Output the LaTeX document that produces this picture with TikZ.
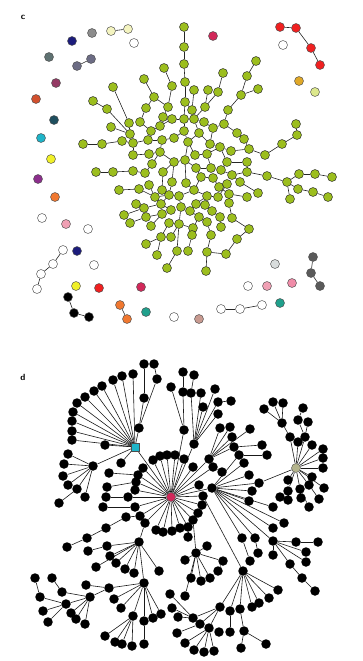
\documentclass[tikz,border=0pt]{standalone}
\usetikzlibrary{backgrounds}
\definecolor{leaf}{HTML}{9CBE1E}
\definecolor{cgray}{HTML}{8C8C8C}
\definecolor{cpaleyel}{HTML}{F4F4C0}
\definecolor{cnavy}{HTML}{1C1C7C}
\definecolor{cslate}{HTML}{5F7272}
\definecolor{cgrpur}{HTML}{6C6C84}
\definecolor{cmaroon}{HTML}{943A64}
\definecolor{corred}{HTML}{D2502E}
\definecolor{cdkteal}{HTML}{1E4E5E}
\definecolor{ccyan}{HTML}{1EB4C8}
\definecolor{cyel}{HTML}{F0F028}
\definecolor{cpurple}{HTML}{8C2E8C}
\definecolor{ccrim}{HTML}{D2285A}
\definecolor{cred}{HTML}{F02020}
\definecolor{cgold}{HTML}{E0A828}
\definecolor{clime}{HTML}{DCE88C}
\definecolor{corange}{HTML}{F07830}
\definecolor{cpink}{HTML}{F0A0B4}
\definecolor{cpinkb}{HTML}{F08CA8}
\definecolor{cteal}{HTML}{20A08C}
\definecolor{cltgray}{HTML}{D8DCDC}
\definecolor{cdkgray}{HTML}{5A5A5A}
\definecolor{crosy}{HTML}{C89A90}
\definecolor{chubg}{HTML}{B4B48C}
\begin{document}
\begin{tikzpicture}[x=1pt,y=-1pt,
  gn/.style={circle,draw=black!85,fill=leaf,line width=0.45pt,inner sep=0pt,minimum size=9pt},
  bn/.style={circle,fill=black,inner sep=0pt,minimum size=9.5pt},
  dot/.style={circle,draw=black!70,fill=#1,line width=0.45pt,inner sep=0pt,minimum size=9pt},
  hub/.style={draw=black!70,fill=#1,line width=0.4pt,inner sep=0pt,minimum size=9pt},
  link/.style={draw=black!85,line width=0.6pt},
  lab/.style={font=\sffamily\bfseries\small}]
\useasboundingbox (0,0) rectangle (363,661);
\node[lab] (labc) at (23,17) {c};
\node[lab] (labd) at (23,377) {d};
\foreach \x/\y in {184/27,184/47,184/64,185/82,185/102,184/119,184/131,188/142,185/160,
  164/68,144/79,113/87,154/97,172/86,93/101,107/109,146/108,168/107,111/127,129/123,140/122,163/117,172/119,160/126,151/131,130/134,83/144,102/144,122/141,133/143,148/140,162/140,174/138,133/155,149/154,160/152,152/164,174/162,96/172,113/172,133/171,145/173,163/172,
  256/61,223/73,247/76,258/89,194/90,208/90,218/92,241/95,205/107,228/110,192/110,194/119,204/122,213/128,224/124,199/133,237/133,244/139,296/124,297/135,282/144,210/144,220/147,231/151,249/149,265/155,195/155,207/154,227/162,247/162,299/174,315/174,332/177,267/176,196/168,211/168,221/170,232/175,247/172,287/182,298/189,313/192,328/197,290/199,201/177,213/178,240/182,194/190,219/187,229/194,258/193,247/197,207/196,
  119/190,139/189,149/185,162/190,172/182,186/183,155/197,169/195,179/196,136/204,144/208,161/204,171/210,181/207,190/211,196/204,205/205,218/197,227/184,229/203,124/215,130/223,146/217,162/214,199/217,212/211,220/217,151/226,169/223,179/224,207/222,232/218,221/227,193/228,161/237,171/237,192/235,211/235,237/239,146/244,157/255,177/251,188/251,207/252,226/254,167/268,206/271,249/229}
  \node[gn] (g\x-\y) at (\x,\y) {};
\foreach \x/\y/\c in {92/33/cgray,134/43/white,72/41/cnavy,49/57/cslate,56/83/cmaroon,36/99/corred,54/120/cdkteal,41/138/ccyan,51/159/cyel,38/179/cpurple,
  213/36/ccrim,283/45/white,299/81/cgold,315/92/clime,55/197/corange,42/218/white,66/224/cpink,88/229/white,77/251/cnavy,94/265/white,76/286/cyel,99/288/cred,141/287/ccrim,146/312/cteal,174/317/white,
  275/264/cltgray,248/286/white,267/286/cpink,292/283/cpinkb,280/303/cteal,199/319/crosy,
  111/31/cpaleyel,128/29/cpaleyel,77/66/cgrpur,91/59/cgrpur,280/27/cred,296/28/cred,311/48/cred,320/65/cred,
  63/250/white,53/264/white,41/274/white,37/289/white,68/297/black,74/313/black,89/317/black,120/305/corange,127/319/corange,
  313/257/cdkgray,311/273/cdkgray,320/286/cdkgray,221/309/white,240/309/white,262/305/white}
  \node[dot=\c] (s\x-\y) at (\x,\y) {};
\foreach \x/\y in {133/374,122/376,113/380,102/386,94/391,85/397,77/403,73/412,72/421,72/431,72/440,105/445,121/463,139/428,144/398,144/364,157/379,154/364,
  93/466,68/454,64/464,63/476,68/485,77/489,59/503,85/497,
  153/460,160/456,167/455,175/455,184/459,193/467,209/459,213/467,222/472,199/485,203/496,202/505,198/513,193/520,188/527,180/528,172/531,163/532,156/530,145/523,140/516,135/507,135/490,136/482,138/475,143/468,128/497,212/488,
  109/473,107/487,106/497,103/507,126/517,106/528,87/538,67/547,
  184/430,183/392,183/372,171/387,194/444,191/393,201/393,194/375,203/407,215/389,218/402,231/401,218/414,220/428,230/427,232/437,234/447,250/429,262/445,239/455,267/455,244/463,249/475,259/483,252/491,249/501,273/507,
  290/437,298/442,305/437,312/445,323/449,323/458,323/468,312/477,309/485,324/488,300/489,288/480,288/491,280/497,288/500,301/498,319/499,309/507,282/423,264/409,273/402,283/403,298/420,303/408,308/422,
  139/542,107/546,88/551,110/556,116/563,96/567,125/569,134/573,159/571,144/583,109/588,86/585,114/599,121/608,133/616,144/621,144/644,153/618,161/614,105/636,115/642,122/644,132/646,90/597,66/604,71/613,76/619,85/624,62/592,52/578,40/597,35/578,43/611,48/622,170/594,172/608,178/617,177/633,
  188/537,196/553,207/546,223/561,185/560,218/571,191/578,201/581,210/578,185/596,242/538,255/538,250/561,258/553,273/528,284/523,273/541,296/542,318/542,306/552,306/562,290/564,302/578,315/591,273/555,243/571,278/590,269/598,259/603,252/607,240/609,230/611,220/607,193/618,200/624,209/628,219/632,230/632,244/631,266/644,241/648,185/643,194/650,204/652,214/651}
  \node[bn] (b\x-\y) at (\x,\y) {};
\node[hub=ccyan,rectangle,minimum size=7.5pt] (bC) at (135,447) {};
\node[hub=ccrim,circle] (bR) at (171,497) {};
\node[hub=chubg,circle] (bG) at (296,468) {};
\begin{pgfonlayer}{background}
\foreach \a/\b in {184-27/184-47,184-47/184-64,184-64/185-82,185-82/185-102,185-102/184-119,184-119/184-131,184-131/188-142,188-142/185-160,
  164-68/172-86,172-86/168-107,168-107/163-117,144-79/154-97,154-97/146-108,146-108/140-122,154-97/168-107,113-87/129-123,93-101/107-109,107-109/130-134,111-127/130-134,129-123/130-134,140-122/151-131,163-117/160-126,172-119/160-126,160-126/151-131,151-131/148-140,130-134/133-143,83-144/102-144,102-144/122-141,122-141/133-143,133-143/148-140,148-140/162-140,162-140/174-138,174-138/184-131,133-143/133-155,133-155/149-154,149-154/160-152,160-152/174-162,152-164/160-152,174-162/185-160,96-172/113-172,113-172/133-171,133-171/145-173,145-173/152-164,163-172/174-162,172-119/184-119,162-140/160-152,
  256-61/247-76,247-76/241-95,241-95/228-110,228-110/224-124,224-124/213-128,223-73/218-92,218-92/205-107,258-89/241-95,194-90/192-110,192-110/185-102,208-90/205-107,205-107/194-119,194-119/204-122,204-122/213-128,213-128/210-144,199-133/194-119,199-133/188-142,224-124/237-133,237-133/244-139,244-139/249-149,231-151/249-149,249-149/265-155,265-155/282-144,282-144/297-135,297-135/296-124,210-144/220-147,220-147/231-151,188-142/195-155,195-155/207-154,207-154/220-147,207-154/211-168,220-147/227-162,227-162/221-170,227-162/247-162,247-162/247-172,247-172/267-176,267-176/287-182,287-182/299-174,299-174/315-174,315-174/332-177,287-182/298-189,298-189/313-192,313-192/328-197,287-182/290-199,185-160/196-168,196-168/211-168,211-168/221-170,221-170/232-175,232-175/247-172,196-168/201-177,201-177/213-178,213-178/219-187,240-182/232-175,194-190/201-177,219-187/229-194,229-194/247-197,240-182/258-193,207-196/194-190,199-133/210-144,
  119-190/139-189,139-189/155-197,149-185/155-197,162-190/169-195,172-182/169-195,186-183/194-190,155-197/169-195,169-195/179-196,179-196/194-190,136-204/144-208,144-208/161-204,161-204/169-195,171-210/161-204,181-207/179-196,190-211/181-207,196-204/207-196,205-205/196-204,218-197/207-196,227-184/218-197,229-203/229-194,124-215/144-208,130-223/146-217,146-217/162-214,162-214/171-210,151-226/162-214,169-223/179-224,179-224/181-207,179-224/171-237,179-224/177-251,179-224/193-228,161-237/169-223,146-244/161-237,157-255/161-237,167-268/177-251,188-251/192-235,192-235/193-228,193-228/199-217,199-217/190-211,207-222/199-217,212-211/205-205,220-217/212-211,207-222/211-235,211-235/207-252,207-252/206-271,207-252/226-254,226-254/237-239,237-239/249-229,249-229/232-218,232-218/229-203,221-227/220-217,163-172/162-190,174-162/172-182,185-160/186-183}
  \draw[link] (g\a) -- (g\b);
\foreach \a/\b in {111-31/128-29,77-66/91-59,280-27/296-28,296-28/311-48,311-48/320-65,63-250/53-264,53-264/41-274,41-274/37-289,
  68-297/74-313,74-313/89-317,120-305/127-319,313-257/311-273,311-273/320-286,221-309/240-309,240-309/262-305}
  \draw[link] (s\a) -- (s\b);
\foreach \a/\b in {C/133-374,C/122-376,C/113-380,C/102-386,C/94-391,C/85-397,C/77-403,C/73-412,C/72-421,C/72-431,C/72-440,C/105-445,C/121-463,C/139-428,C/93-466,C/R,
  139-428/144-398,144-398/144-364,139-428/157-379,157-379/154-364,
  93-466/68-454,93-466/64-464,93-466/63-476,93-466/68-485,93-466/77-489,93-466/85-497,77-489/59-503,
  R/153-460,R/160-456,R/167-455,R/175-455,R/184-459,R/193-467,R/209-459,R/213-467,R/199-485,R/203-496,R/202-505,R/198-513,R/193-520,R/188-527,R/180-528,R/172-531,R/163-532,R/156-530,R/145-523,R/140-516,R/135-507,R/135-490,R/136-482,R/138-475,R/143-468,R/128-497,R/212-488,R/184-430,R/194-444,
  213-467/222-472,138-475/109-473,136-482/107-487,128-497/106-497,135-507/103-507,140-516/126-517,126-517/106-528,106-528/87-538,87-538/67-547,
  184-430/183-392,183-392/183-372,184-430/171-387,
  194-444/191-393,191-393/194-375,194-444/201-393,194-444/203-407,194-444/215-389,194-444/218-402,218-402/231-401,194-444/218-414,
  209-459/220-428,209-459/230-427,209-459/232-437,209-459/250-429,209-459/234-447,234-447/262-445,
  212-488/239-455,239-455/267-455,212-488/244-463,212-488/249-475,212-488/259-483,259-483/G,212-488/252-491,212-488/249-501,212-488/273-507,212-488/284-523,212-488/273-528,212-488/242-538,242-538/250-561,212-488/255-538,255-538/258-553,212-488/273-541,
  273-541/296-542,296-542/318-542,273-541/306-552,273-541/306-562,273-541/290-564,290-564/302-578,302-578/315-591,273-541/273-555,
  G/290-437,G/298-442,G/305-437,G/312-445,G/323-449,G/323-458,G/323-468,G/312-477,G/309-485,G/324-488,G/300-489,G/288-480,G/288-491,
  290-437/282-423,282-423/264-409,282-423/273-402,282-423/283-403,305-437/298-420,298-420/303-408,305-437/308-422,300-489/301-498,300-489/309-507,309-485/319-499,288-491/280-497,288-491/288-500,
  203-496/243-571,243-571/278-590,243-571/269-598,243-571/259-603,243-571/252-607,243-571/240-609,243-571/230-611,243-571/220-607,230-611/230-632,240-609/244-631,244-631/266-644,244-631/241-648,
  220-607/193-618,220-607/200-624,220-607/209-628,209-628/185-643,209-628/194-650,209-628/204-652,209-628/214-651,209-628/219-632,193-618/170-594,193-618/172-608,193-618/178-617,200-624/177-633,
  193-520/196-553,196-553/185-560,196-553/191-578,196-553/201-581,196-553/210-578,196-553/207-546,196-553/223-561,223-561/218-571,196-553/185-596,188-527/188-537,
  145-523/139-542,139-542/107-546,107-546/88-551,139-542/110-556,139-542/116-563,139-542/96-567,139-542/125-569,139-542/134-573,139-542/159-571,139-542/144-583,
  144-583/109-588,109-588/86-585,144-583/114-599,144-583/121-608,144-583/133-616,144-583/144-621,144-621/144-644,144-583/153-618,144-583/161-614,133-616/105-636,133-616/115-642,133-616/122-644,133-616/132-646,
  109-588/90-597,90-597/66-604,90-597/71-613,90-597/76-619,90-597/85-624,90-597/62-592,62-592/52-578,66-604/40-597,40-597/35-578,66-604/43-611,66-604/48-622}
  \draw[link,black!90] (b\a) -- (b\b);
\end{pgfonlayer}
\end{tikzpicture}
\end{document}
